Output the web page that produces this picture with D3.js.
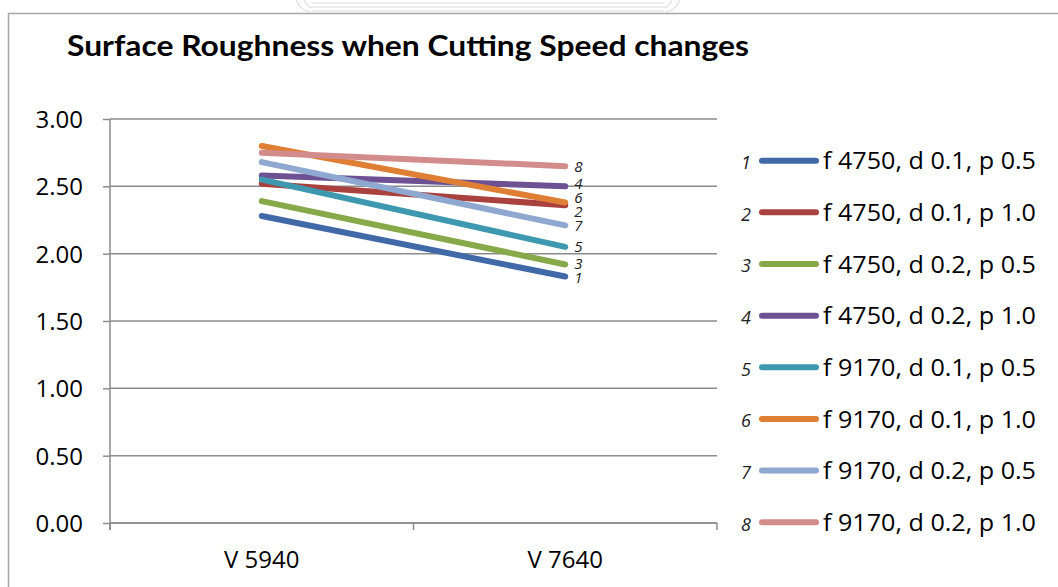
<!DOCTYPE html>
<html>
<head>
<meta charset="utf-8">
<script src="https://cdn.jsdelivr.net/npm/d3@7"></script>
<style>
  html, body { margin: 0; padding: 0; background: #ffffff; }
  svg { display: block; }
</style>
</head>
<body>
<svg id="chart" width="1058" height="587"></svg>
<script>
// Surface roughness (Ra) at two cutting speeds, eight feed/depth/pass settings
const categories = ["V 5940", "V 7640"];
const seriesNumbers = ["1", "2", "3", "4", "5", "6", "7", "8"];
const seriesNames = [
  "f 4750, d 0.1, p 0.5",
  "f 4750, d 0.1, p 1.0",
  "f 4750, d 0.2, p 0.5",
  "f 4750, d 0.2, p 1.0",
  "f 9170, d 0.1, p 0.5",
  "f 9170, d 0.1, p 1.0",
  "f 9170, d 0.2, p 0.5",
  "f 9170, d 0.2, p 1.0"
];
const s1 = [2.28, 1.83];
const s2 = [2.52, 2.36];
const s3 = [2.39, 1.92];
const s4 = [2.58, 2.50];
const s5 = [2.55, 2.05];
const s6 = [2.80, 2.38];
const s7 = [2.68, 2.21];
const s8 = [2.75, 2.65];
const seriesValues = [s1, s2, s3, s4, s5, s6, s7, s8];
const yTicks = [0, 0.5, 1.0, 1.5, 2.0, 2.5, 3.0];
const colors = ["#4169a8", "#a9413f", "#87a94a", "#6e5193", "#3d98b0", "#de7f35", "#8ea8d0", "#d28c8c"];

const FONT = "'Open Sans', 'Noto Sans', sans-serif";
const GRID = "#8c8c8c";

const svg = d3.select("#chart");

// stretch or squeeze a text element to a given rendered width
function fitWidth(sel, w) {
  sel.attr("textLength", w).attr("lengthAdjust", "spacingAndGlyphs");
}

// faint seal/letterhead band above the frame
const wm = svg.append("g").attr("fill", "none").attr("stroke", "#dedede").attr("stroke-width", 1.2);
[3, 7, 11].forEach(yy => wm.append("line").attr("x1", 312).attr("x2", 664).attr("y1", yy).attr("y2", yy));
wm.append("path").attr("d", "M296,0 q4,10 14,12 M304,0 q2,6 8,8");
wm.append("path").attr("d", "M680,0 q-4,10 -14,12 M672,0 q-2,6 -8,8");

// chart frame
svg.append("rect")
  .attr("x", 8.5).attr("y", 13.5)
  .attr("width", 1100).attr("height", 700)
  .attr("fill", "#ffffff")
  .attr("stroke", "#a6a6a6").attr("stroke-width", 1.5);

// title
svg.append("text")
  .attr("x", 67).attr("y", 56)
  .attr("font-family", "Lato, 'Open Sans', sans-serif")
  .attr("font-weight", "bold")
  .attr("font-size", 28)
  .attr("fill", "#000")
  .text("Surface Roughness when Cutting Speed changes")
  .call(fitWidth, 682);

// scales
const x = d3.scaleBand().domain(categories).range([110, 717]).padding(0);
const y = d3.scaleLinear().domain([0, 3]).range([523, 119]);
const cx = c => x(c) + x.bandwidth() / 2;

// horizontal gridlines
svg.append("g")
  .selectAll("line")
  .data(yTicks)
  .join("line")
  .attr("x1", 110).attr("x2", 717)
  .attr("y1", d => y(d)).attr("y2", d => y(d))
  .attr("stroke", GRID).attr("stroke-width", 1.5);

// y axis
const yAxis = svg.append("g")
  .attr("transform", "translate(110,0)")
  .call(d3.axisLeft(y).tickValues(yTicks).tickFormat(d3.format(".2f")).tickSize(7).tickPadding(20));
yAxis.select(".domain").attr("stroke", GRID).attr("stroke-width", 1.5).attr("d", "M0,119V530");
yAxis.selectAll(".tick line").attr("stroke", GRID).attr("stroke-width", 1.5);
yAxis.selectAll(".tick text")
  .attr("font-family", FONT).attr("font-size", 24).attr("fill", "#000").attr("dy", "0.36em");

// x axis with boundary ticks between categories
const xAxis = svg.append("g").attr("transform", "translate(0,523)");
xAxis.append("line").attr("x1", 110).attr("x2", 717).attr("stroke", GRID).attr("stroke-width", 1.5);
const bounds = categories.map(c => x(c)).concat([x(categories[categories.length - 1]) + x.bandwidth()]);
xAxis.selectAll("line.bt")
  .data(bounds)
  .join("line")
  .attr("class", "bt")
  .attr("x1", d => d).attr("x2", d => d)
  .attr("y1", 0).attr("y2", 7)
  .attr("stroke", GRID).attr("stroke-width", 1.5);
xAxis.selectAll("text")
  .data(categories)
  .join("text")
  .attr("x", d => cx(d)).attr("y", 45)
  .attr("text-anchor", "middle")
  .attr("font-family", FONT).attr("font-size", 24).attr("fill", "#000")
  .text(d => d);

// series lines
const line = d3.line().x((d, i) => cx(categories[i])).y(d => y(d));
svg.append("g")
  .selectAll("path")
  .data(seriesValues)
  .join("path")
  .attr("d", d => line(d))
  .attr("fill", "none")
  .attr("stroke", (d, i) => colors[i])
  .attr("stroke-width", 6)
  .attr("stroke-linecap", "round");

// series numbers at line ends, nudged apart where they would collide
const ends = seriesValues.map((v, i) => ({ i, ly: y(v[v.length - 1]) }))
  .sort((a, b) => a.ly - b.ly);
const minGap = 14;
for (let pass = 0; pass < 20; pass++) {
  for (let k = 1; k < ends.length; k++) {
    const gap = ends[k].ly - ends[k - 1].ly;
    if (gap < minGap) {
      const shift = (minGap - gap) / 2;
      ends[k - 1].ly -= shift;
      ends[k].ly += shift;
    }
  }
}
svg.append("g")
  .selectAll("text")
  .data(ends)
  .join("text")
  .attr("x", cx(categories[categories.length - 1]) + 9)
  .attr("y", d => d.ly)
  .attr("dy", "0.36em")
  .attr("font-family", FONT).attr("font-style", "italic").attr("font-size", 15)
  .attr("fill", "#222")
  .text(d => seriesNumbers[d.i]);

// legend
const legend = svg.append("g");
const rowY = i => 160.7 + i * 51.65;
const item = legend.selectAll("g")
  .data(seriesNames)
  .join("g")
  .attr("transform", (d, i) => `translate(0,${rowY(i)})`);
item.append("text")
  .attr("x", 751).attr("y", 2).attr("dy", "0.36em")
  .attr("text-anchor", "end")
  .attr("font-family", FONT).attr("font-style", "italic").attr("font-size", 18)
  .attr("fill", "#222")
  .text((d, i) => seriesNumbers[i]);
item.append("line")
  .attr("x1", 762).attr("x2", 816)
  .attr("stroke", (d, i) => colors[i])
  .attr("stroke-width", 6)
  .attr("stroke-linecap", "round");
item.append("text")
  .attr("x", 823).attr("dy", "0.36em")
  .attr("font-family", FONT).attr("font-size", 24)
  .attr("fill", "#000")
  .text(d => d)
  .call(fitWidth, 213);
</script>
</body>
</html>
